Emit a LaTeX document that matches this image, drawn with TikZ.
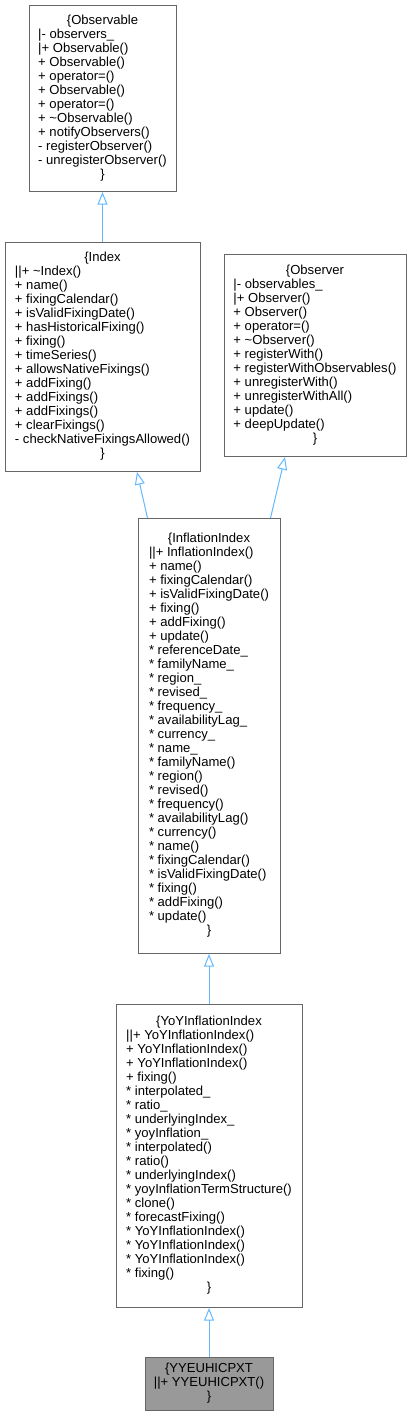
\documentclass[tikz,border=0pt]{standalone}
\usepackage{fontspec}
\setmainfont{Liberation Sans}
\usetikzlibrary{arrows.meta,positioning,calc}
\definecolor{edgeblue}{HTML}{63B8FF}
\definecolor{boxgray}{HTML}{666666}
\definecolor{leafgray}{HTML}{999999}
\newcommand{\classrec}[2]{\begin{tabular}{@{}l@{}}\multicolumn{1}{@{}c@{}}{\{#1}\\#2\\\multicolumn{1}{@{}c@{}}{\}}\end{tabular}}

\begin{document}
\begin{tikzpicture}[
    x=0.75pt, y=-0.75pt,
    node distance=37.5pt,
    cls/.style={rectangle, draw=boxgray, fill=white, line width=0.75pt, inner sep=0pt, anchor=north, font=\fontsize{9.8}{10.5}\selectfont},
    leaf/.style={cls, fill=leafgray},
    inherit/.style={-{Triangle[open, length=9.5pt, width=7.5pt]}, draw=edgeblue, line width=0.75pt}
]
    \useasboundingbox (0,0) rectangle (413,1415);

    \node [cls, minimum width=110.25pt, minimum height=139.5pt] (obs) at (102.5,5) {\classrec{Observable}{|- observers\_\\|+ Observable()\\+ Observable()\\+ operator=()\\+ Observable()\\+ operator=()\\+ \textasciitilde Observable()\\+ notifyObservers()\\- registerObserver()\\- unregisterObserver()}};
    \node [cls, below=of obs, minimum width=146.25pt, minimum height=171.75pt] (idx) {\classrec{Index}{||+ \textasciitilde Index()\\+ name()\\+ fixingCalendar()\\+ isValidFixingDate()\\+ hasHistoricalFixing()\\+ fixing()\\+ timeSeries()\\+ allowsNativeFixings()\\+ addFixing()\\+ addFixings()\\+ addFixings()\\+ clearFixings()\\- checkNativeFixingsAllowed()}};
    \node [cls, minimum width=136.5pt, minimum height=151.5pt] (obsr) at (315,254) {\classrec{Observer}{|- observables\_\\|+ Observer()\\+ Observer()\\+ operator=()\\+ \textasciitilde Observer()\\+ registerWith()\\+ registerWithObservables()\\+ unregisterWith()\\+ unregisterWithAll()\\+ update()\\+ deepUpdate()}};
    \node [cls, minimum width=106.5pt, minimum height=326.25pt] (infl) at (209,518) {\classrec{InflationIndex}{||+ InflationIndex()\\+ name()\\+ fixingCalendar()\\+ isValidFixingDate()\\+ fixing()\\+ addFixing()\\+ update()\\{*} referenceDate\_\\{*} familyName\_\\{*} region\_\\{*} revised\_\\{*} frequency\_\\{*} availabilityLag\_\\{*} currency\_\\{*} name\_\\{*} familyName()\\{*} region()\\{*} revised()\\{*} frequency()\\{*} availabilityLag()\\{*} currency()\\{*} name()\\{*} fixingCalendar()\\{*} isValidFixingDate()\\{*} fixing()\\{*} addFixing()\\{*} update()}};
    \node [cls, below=of infl, minimum width=139.5pt, minimum height=227.25pt] (yoy) {\classrec{YoYInflationIndex}{||+ YoYInflationIndex()\\+ YoYInflationIndex()\\+ YoYInflationIndex()\\+ fixing()\\{*} interpolated\_\\{*} ratio\_\\{*} underlyingIndex\_\\{*} yoyInflation\_\\{*} interpolated()\\{*} ratio()\\{*} underlyingIndex()\\{*} yoyInflationTermStructure()\\{*} clone()\\{*} forecastFixing()\\{*} YoYInflationIndex()\\{*} YoYInflationIndex()\\{*} YoYInflationIndex()\\{*} fixing()}};
    \node [leaf, below=36.75pt of yoy, minimum width=96pt, minimum height=39.75pt] (yyeu) {\classrec{YYEUHICPXT}{||+ YYEUHICPXT()}};

    \draw [inherit] (idx) -- (obs);
    \draw [inherit] ($(infl.north west)+(10,0)$) -- ($(idx.south)+(34.5,0)$);
    \draw [inherit] ($(infl.north east)+(-10,0)$) -- ($(obsr.south)+(-30,0)$);
    \draw [inherit] (yoy) -- (infl);
    \draw [inherit] (yyeu) -- (yoy);
\end{tikzpicture}
\end{document}
